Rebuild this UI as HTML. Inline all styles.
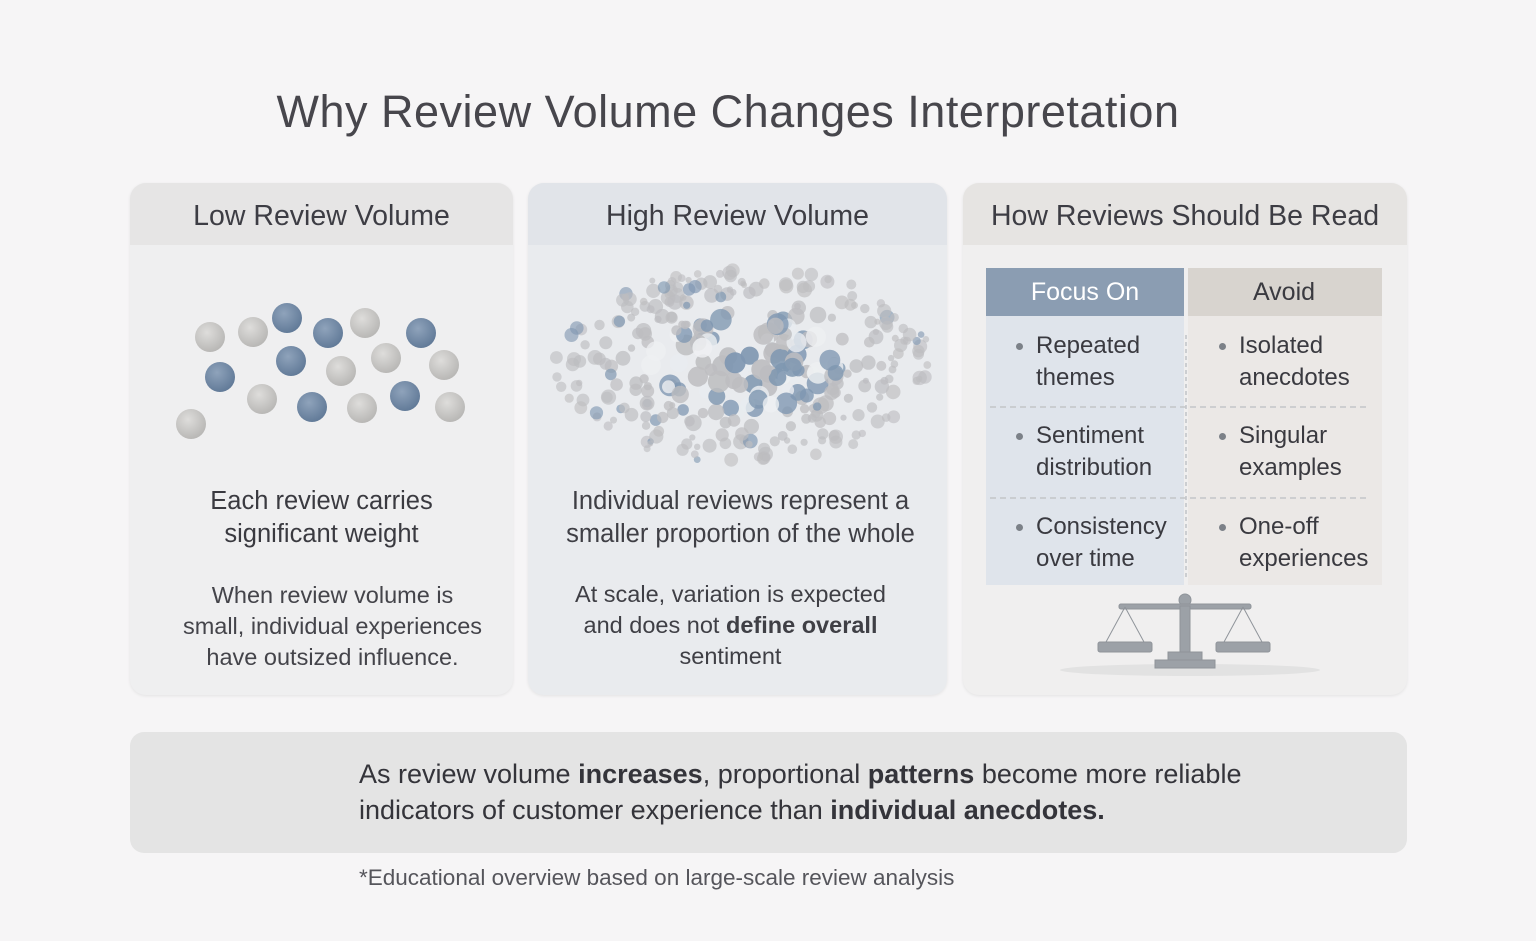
<!DOCTYPE html>
<html><head><meta charset="utf-8"><style>
body{margin:0;width:1536px;height:941px;background:#f6f5f6;font-family:"Liberation Sans","DejaVu Sans",sans-serif;color:#3f3f45;position:relative;overflow:hidden}
.a{position:absolute}
.panel{position:absolute;top:183px;height:512px;border-radius:16px;background:#efeff0;overflow:hidden;box-shadow:0 1px 3px rgba(0,0,0,.08)}
.hd{position:absolute;left:0;right:0;top:0;height:62px;background:#e6e5e5;text-align:center;line-height:66px;font-size:28.5px;color:#3d3d44}
.t{position:absolute;text-align:center;font-size:25.5px;line-height:33px}
.s{font-size:23.5px;line-height:31px}
.cell{position:absolute;font-size:24px;line-height:32px;color:#3a3a40}
.cell:before{content:"";position:absolute;left:-20px;top:13px;width:7px;height:7px;border-radius:50%;background:#7c8188}
</style></head><body>
<div class="a" style="left:0;top:86px;width:1456px;text-align:center;font-size:45px;color:#47464c;letter-spacing:0.5px">Why Review Volume Changes Interpretation</div>

<div class="panel" style="left:130px;width:383px">
<div class="hd">Low Review Volume</div>
<div class="t" style="left:0;width:383px;top:302px;color:#3a3a40">Each review carries<br>significant weight</div>
<div class="t s" style="left:0;width:405px;top:397px;color:#44444a">When review volume is<br>small, individual experiences<br>have outsized influence.</div>
</div>
<div class="panel" style="left:528px;width:419px;background:#e9ebee">
<div class="hd" style="background:#e1e4e9">High Review Volume</div>
<div class="t" style="left:0;width:425px;top:302px">Individual reviews represent a<br>smaller proportion of the whole</div>
<div class="t s" style="left:0;width:405px;top:396px">At scale, variation is expected<br>and does not <b style="font-weight:600">define overall</b><br>sentiment</div>
</div>
<div class="panel" style="left:963px;width:444px;background:#f0efef">
<div class="hd" style="background:#e6e4e2">How Reviews Should Be Read</div>
</div>

<svg class="a" style="left:0;top:0" width="1536" height="941">
<defs><radialGradient id="g" cx=".4" cy=".35" r=".7"><stop offset="0" stop-color="#dedddb"/><stop offset="1" stop-color="#b6b5b3"/></radialGradient>
<radialGradient id="b" cx=".4" cy=".35" r=".7"><stop offset="0" stop-color="#8fa3bb"/><stop offset="1" stop-color="#5f7896"/></radialGradient></defs>
<g id="low"></g><g id="high"></g>
<rect x="986" y="268" width="198" height="317" fill="#dfe4eb"/>
<rect x="1188" y="268" width="194" height="317" fill="#ebe8e6"/>
<rect x="986" y="268" width="198" height="48" fill="#8b9db2"/>
<rect x="1188" y="268" width="194" height="48" fill="#d8d4cf"/>
<line x1="1186" y1="335" x2="1186" y2="580" stroke="#a9adb3" stroke-dasharray="4 3"/>
<line x1="990" y1="407" x2="1370" y2="407" stroke="#c3c5c8" stroke-dasharray="6 4" stroke-width="1.5"/>
<line x1="990" y1="498" x2="1370" y2="498" stroke="#c3c5c8" stroke-dasharray="6 4" stroke-width="1.5"/>
<text x="1085" y="300" text-anchor="middle" font-size="25" fill="#fff" font-family="Liberation Sans">Focus On</text>
<text x="1284" y="300" text-anchor="middle" font-size="25" fill="#3a3a40" font-family="Liberation Sans">Avoid</text>
<g fill="#9ca1a7" stroke="#8f949a">
<ellipse cx="1190" cy="670" rx="130" ry="6" fill="#e2e2e2" stroke="none"/>
<circle cx="1185" cy="600" r="6"/>
<rect x="1119" y="604" width="132" height="5" rx="2"/>
<rect x="1180" y="606" width="10" height="52"/>
<line x1="1125" y1="607" x2="1106" y2="642" fill="none"/><line x1="1125" y1="607" x2="1144" y2="642" fill="none"/>
<line x1="1243" y1="607" x2="1224" y2="642" fill="none"/><line x1="1243" y1="607" x2="1262" y2="642" fill="none"/>
<rect x="1098" y="642" width="54" height="10" rx="2"/><rect x="1216" y="642" width="54" height="10" rx="2"/>
<rect x="1168" y="652" width="34" height="8"/><rect x="1155" y="660" width="60" height="8"/>
</g>
</svg>
<div class="cell" style="left:1036px;top:330px">Repeated<br>themes</div>
<div class="cell" style="left:1036px;top:420px">Sentiment<br>distribution</div>
<div class="cell" style="left:1036px;top:511px">Consistency<br>over time</div>
<div class="cell" style="left:1239px;top:330px">Isolated<br>anecdotes</div>
<div class="cell" style="left:1239px;top:420px">Singular<br>examples</div>
<div class="cell" style="left:1239px;top:511px">One-off<br>experiences</div>

<div class="a" style="left:130px;top:732px;width:1277px;height:121px;border-radius:14px;background:#e4e4e4"></div>
<div class="a" style="left:359px;top:756px;font-size:27px;line-height:36px;color:#34343a">As review volume <b style="font-weight:600">increases</b>, proportional <b style="font-weight:600">patterns</b> become more reliable<br>indicators of customer experience than <b style="font-weight:600">individual anecdotes.</b></div>
<div class="a" style="left:359px;top:865px;font-size:22.5px;color:#55555b">*Educational overview based on large-scale review analysis</div>

<script>
var NS="http://www.w3.org/2000/svg";
function c(g,x,y,r,f,o){var e=document.createElementNS(NS,"circle");e.setAttribute("cx",x);e.setAttribute("cy",y);e.setAttribute("r",r);e.setAttribute("fill",f);if(o)e.setAttribute("opacity",o);g.appendChild(e);}
var low=document.getElementById("low");
[[210,337,"g"],[253,332,"g"],[287,318,"b"],[328,333,"b"],[365,323,"g"],[421,333,"b"],[220,377,"b"],[291,361,"b"],[341,371,"g"],[386,358,"g"],[444,365,"g"],[262,399,"g"],[312,407,"b"],[362,408,"g"],[405,396,"b"],[450,407,"g"],[191,424,"g"]].forEach(function(p){c(low,p[0],p[1],15,"url(#"+p[2]+")");});
var hi=document.getElementById("high");var s=7;function r(){s=(s*16807)%2147483647;return s/2147483647;}
for(var i=0;i<340;i++){var a=r()*6.283,d=Math.sqrt(r());var x=745+Math.cos(a)*d*190,y=365+Math.sin(a)*d*98;
var cen=d<0.5;var blue=cen?r()<0.45:r()<0.07;var rad=cen?6+r()*5:3+r()*(8-4*d);
var col=blue?(cen&&r()<0.3?"#e8ecf0":"#7f97b1"):(cen&&r()<0.3?"#eef0f2":"#bdbdc0");c(hi,x.toFixed(1),y.toFixed(1),rad.toFixed(1),col,(0.95-d*0.35).toFixed(2));}
</script>
</body></html>
